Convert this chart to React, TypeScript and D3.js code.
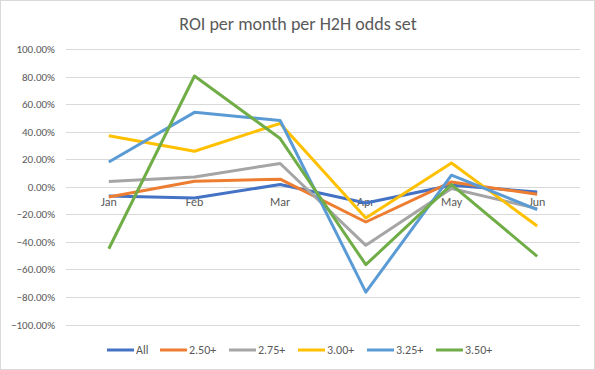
import * as d3 from 'd3';
import React, { useRef, useEffect } from 'react';

const months = ['Jan', 'Feb', 'Mar', 'Apr', 'May', 'Jun'];
const seriesNames = ['All', '2.50+', '2.75+', '3.00+', '3.25+', '3.50+'];
const seriesColors = ['#4472C4', '#ED7D31', '#A5A5A5', '#FFC000', '#5B9BD5', '#70AD47'];

// ROI values (fraction) per month
const allVals = [-0.067, -0.081, 0.016, -0.118, 0.011, -0.038];
const v250 = [-0.074, 0.04, 0.055, -0.256, 0.035, -0.055];
const v275 = [0.038, 0.071, 0.169, -0.425, -0.013, -0.159];
const v300 = [0.37, 0.258, 0.46, -0.227, 0.173, -0.285];
const v325 = [0.18, 0.54, 0.481, -0.765, 0.084, -0.166];
const v350 = [-0.45, 0.804, 0.35, -0.566, 0.016, -0.505];
const yTicks = [1, 0.8, 0.6, 0.4, 0.2, 0, -0.2, -0.4, -0.6, -0.8, -1];

const App: React.FC = () => {
  const ref = useRef<SVGSVGElement>(null);

  useEffect(() => {
    const width = 595;
    const height = 370;
    const margin = { top: 49, right: 15, bottom: 46, left: 66 };
    const values = [allVals, v250, v275, v300, v325, v350];

    const svg = d3.select(ref.current);
    svg.selectAll('*').remove();

    svg.append('rect')
      .attr('x', 0.5).attr('y', 0.5)
      .attr('width', width - 1).attr('height', height - 1)
      .attr('fill', '#fff').attr('stroke', '#d9d9d9');

    const font = "Calibri, Carlito, 'Open Sans', sans-serif";

    svg.append('text')
      .attr('x', 298).attr('y', 30)
      .attr('text-anchor', 'middle')
      .attr('font-family', font)
      .attr('font-size', 18)
      .attr('fill', '#595959')
      .text('ROI per month per H2H odds set');

    const x = d3.scaleBand()
      .domain(months)
      .range([margin.left, width - margin.right]);

    const y = d3.scaleLinear()
      .domain([-1, 1])
      .range([height - margin.bottom + 0.5, margin.top]);

    // gridlines
    svg.append('g')
      .selectAll('line')
      .data(yTicks)
      .enter()
      .append('line')
      .attr('x1', margin.left).attr('x2', width - margin.right)
      .attr('y1', d => Math.round(y(d)) + 0.5)
      .attr('y2', d => Math.round(y(d)) + 0.5)
      .attr('stroke', '#d9d9d9').attr('stroke-width', 1);

    const fmt = d3.format('.2%');
    svg.append('g')
      .selectAll('text')
      .data(yTicks)
      .enter()
      .append('text')
      .attr('x', 55)
      .attr('y', d => y(d) + 4)
      .attr('text-anchor', 'end')
      .attr('font-family', font)
      .attr('font-size', 11)
      .attr('fill', '#595959')
      .text(d => fmt(d));

    // category labels sit below the zero line
    svg.append('g')
      .selectAll('text')
      .data(months)
      .enter()
      .append('text')
      .attr('x', d => (x(d) ?? 0) + x.bandwidth() / 2)
      .attr('y', y(0) + 19)
      .attr('text-anchor', 'middle')
      .attr('font-family', font)
      .attr('font-size', 12)
      .attr('fill', '#595959')
      .text(d => d);

    const line = d3.line<number>()
      .x((_, i) => (x(months[i]) ?? 0) + x.bandwidth() / 2)
      .y(d => y(d));

    svg.append('g')
      .selectAll('path')
      .data(values)
      .enter()
      .append('path')
      .attr('d', d => line(d))
      .attr('fill', 'none')
      .attr('stroke', (_, i) => seriesColors[i])
      .attr('stroke-width', 3)
      .attr('stroke-linejoin', 'round');

    // legend
    const legendX = [107, 160, 229, 298, 367, 436];
    const legend = svg.append('g')
      .selectAll('g')
      .data(seriesNames)
      .enter()
      .append('g')
      .attr('transform', (_, i) => `translate(${legendX[i]},350)`);
    legend.append('line')
      .attr('x1', 0).attr('x2', 27)
      .attr('stroke', (_, i) => seriesColors[i])
      .attr('stroke-width', 3);
    legend.append('text')
      .attr('x', 29).attr('y', 4)
      .attr('font-family', font)
      .attr('font-size', 12)
      .attr('fill', '#595959')
      .text(d => d);
  }, []);

  return (
    <svg
      ref={ref}
      width={595}
      height={370}
      style={{ position: 'absolute', left: 0, top: 0, display: 'block' }}
    />
  );
};

export default App;
